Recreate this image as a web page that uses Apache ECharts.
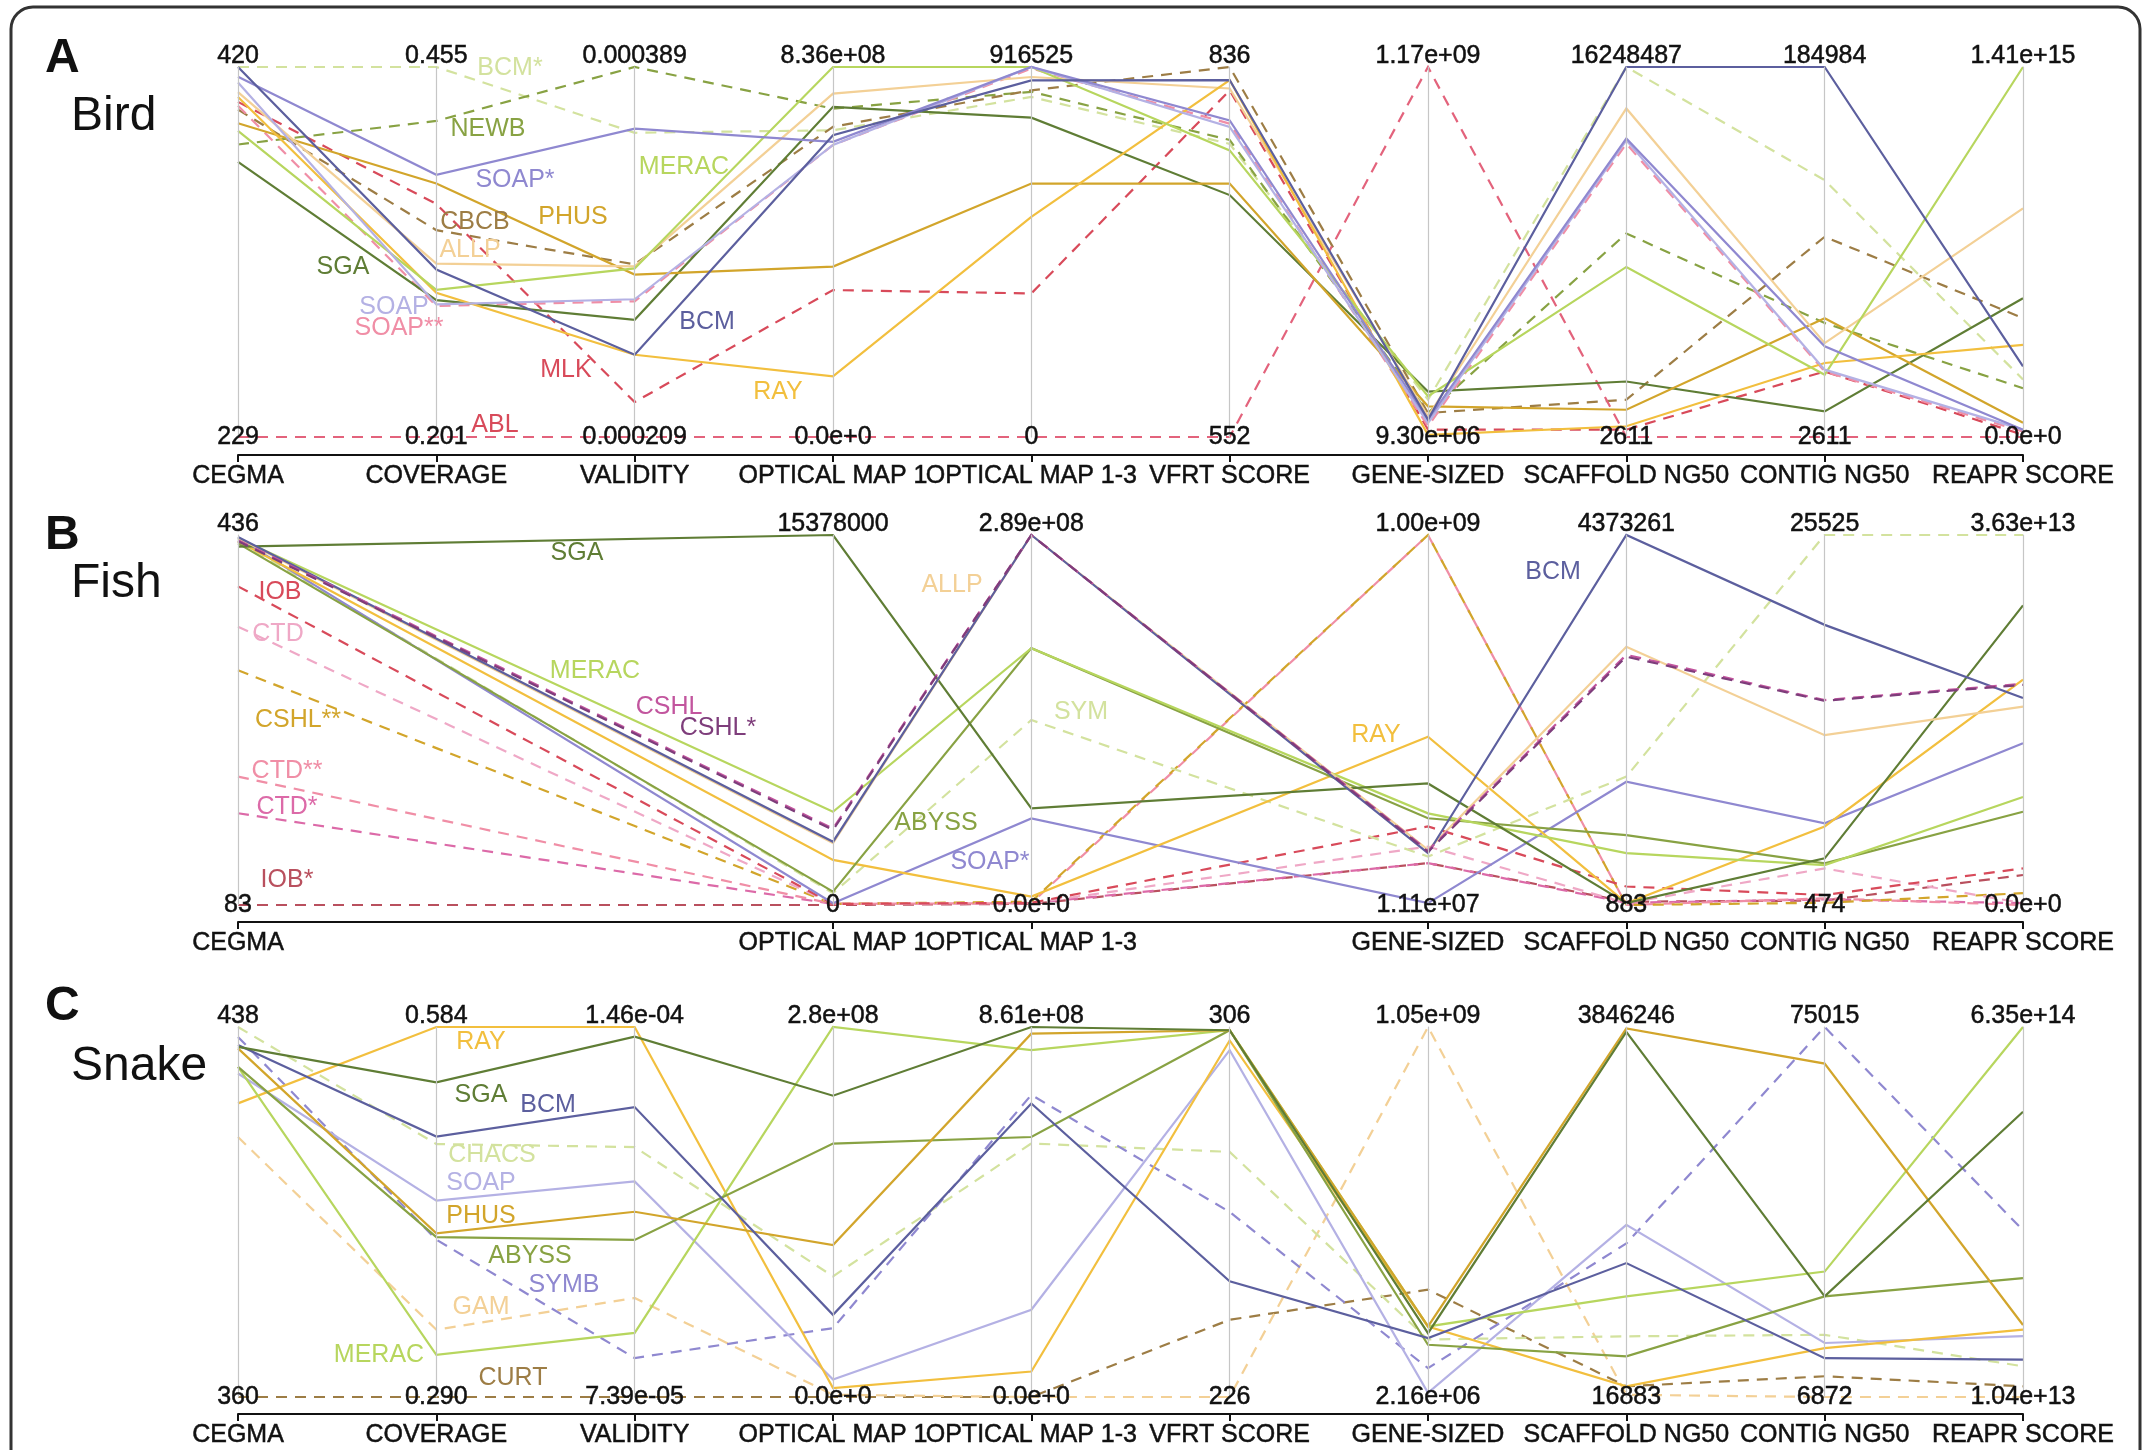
<!DOCTYPE html>
<html>
<head>
<meta charset="utf-8">
<title>Assembly metrics - Bird, Fish, Snake</title>
<script src="https://cdn.jsdelivr.net/npm/echarts@6/dist/echarts.min.js"></script>
<style>
html, body { margin: 0; padding: 0; background: #fff; }
#main { width: 2151px; height: 1450px; }
</style>
</head>
<body>
<div id="main"></div>
<script>
var FONT = '"Liberation Sans", Arial, Helvetica, sans-serif';

var axisNames = ['CEGMA', 'COVERAGE', 'VALIDITY', 'OPTICAL MAP 1', 'OPTICAL MAP 1-3',
	'VFRT SCORE', 'GENE-SIZED', 'SCAFFOLD NG50', 'CONTIG NG50', 'REAPR SCORE'];

var colors = {
	dkolive : '#5f7d35', olive : '#88a243', ltgreen : '#b7d65e', pale : '#d3e29e',
	blue : '#5c5f9e', purple : '#8f88d0', lavender : '#b4b1e4',
	gold : '#d2a52b', orange : '#f2bf3e', peach : '#f3d096', brown : '#9d7d45',
	red : '#d84a5a', pink : '#f08ea6', rose : '#e3637c', magenta : '#c2559e',
	plum : '#7e3d7b', orchid : '#dc6aa8', wine : '#b9505e', ltpink : '#efa8c6'
};

// ---- A  Bird ----
var birdMin = [229, 0.201, 0.000209, 0, 0, 552, 9.30e6, 2611, 2611, 0];
var birdMax = [420, 0.455, 0.000389, 8.36e8, 916525, 836, 1.17e9, 16248487, 184984, 1.41e15];
var birdTop = ['420', '0.455', '0.000389', '8.36e+08', '916525', '836', '1.17e+09', '16248487', '184984', '1.41e+15'];
var birdBottom = ['229', '0.201', '0.000209', '0.0e+0', '0', '552', '9.30e+06', '2611', '2611', '0.0e+0'];
var birdNames = ['BCM*', 'NEWB', 'CBCB', 'ABL', 'MLK', 'SOAP**', 'SGA', 'PHUS', 'ALLP', 'RAY', 'MERAC', 'SOAP', 'SOAP*', 'BCM'];
var birdValues = [
	[420, 0.455, 0.000357, 6.93e8, 842300, 777, 1.265e8, 16248487, 129200, 2.19e14],
	[380, 0.418, 0.000389, 7.42e8, 855100, 780, 8.47e7, 8.94e6, 58800, 1.86e14],
	[398, 0.343, 0.000293, 7.01e8, 858800, 836, 8.47e7, 1.64e6, 101300, 4.53e14],
	[229, 0.201, 0.000209, 0, 0, 552, 1.17e9, 2611, 2611, 0],
	[402, 0.361, 0.000226, 3.32e8, 355600, 818, 3.25e7, 3.27e5, 34900, 8.5e12],
	[400, 0.291, 0.000275, 6.60e8, 912900, 792.5, 4.3e7, 1.288e7, 34900, 2.1e13],
	[371, 0.295, 0.000266, 7.46e8, 791000, 737.7, 1.52e8, 2.44e6, 15200, 5.29e14],
	[391, 0.375, 0.000288, 3.85e8, 627800, 746.5, 1.056e8, 1.2e6, 61150, 5.4e13],
	[407, 0.320, 0.000292, 7.76e8, 891800, 819.5, 7.43e7, 1.443e7, 48900, 8.71e14],
	[404.5, 0.300, 0.000249, 1.37e8, 545300, 826, 1.63e7, 4.74e5, 39100, 3.51e14],
	[387, 0.302, 0.000291, 8.36e8, 916525, 772, 1.37e8, 7.47e6, 33250, 1.41e15],
	[412, 0.292, 0.000276, 6.60e8, 916525, 790, 5.34e7, 1.303e7, 35800, 2.8e13],
	[415, 0.381, 0.000359, 6.67e8, 916525, 795, 6.39e7, 1.311e7, 47300, 2.8e13],
	[420, 0.316, 0.000249, 6.82e8, 883500, 826, 6.39e7, 16248487, 184984, 2.69e14]
];
var birdStyle = [['pale', 1], ['olive', 1], ['brown', 1], ['rose', 1], ['red', 1], ['pink', 1], ['dkolive', 0],
	['gold', 0], ['peach', 0], ['orange', 0], ['ltgreen', 0], ['lavender', 0], ['purple', 0], ['blue', 0]];
var birdTags = [
	['BCM*', 'pale', 510, 68], ['NEWB', 'olive', 488, 129], ['SOAP*', 'purple', 515, 180],
	['MERAC', 'ltgreen', 684, 167], ['CBCB', 'brown', 475, 222], ['PHUS', 'gold', 573, 217],
	['ALLP', 'peach', 470, 250], ['SGA', 'dkolive', 343, 267], ['SOAP', 'lavender', 394, 307],
	['SOAP**', 'pink', 399, 328], ['BCM', 'blue', 707, 322], ['MLK', 'red', 566, 370],
	['RAY', 'orange', 778, 392], ['ABL', 'red', 495, 425]
];

// ---- B  Fish (no coverage, validity, vfrt) ----
var fishMin = [83, 0, 0, 0, 0, 0, 1.11e7, 883, 474, 0];
var fishMax = [436, 1, 1, 15378000, 2.89e8, 1, 1.00e9, 4373261, 25525, 3.63e13];
var fishTop = ['436', '', '', '15378000', '2.89e+08', '', '1.00e+09', '4373261', '25525', '3.63e+13'];
var fishBottom = ['83', '', '', '0', '0.0e+0', '', '1.11e+07', '883', '474', '0.0e+0'];
var fishNames = ['IOB*', 'CTD*', 'CTD**', 'CSHL**', 'CTD', 'IOB', 'SYM', 'SOAP*', 'RAY', 'ABYSS', 'MERAC', 'SGA', 'ALLP', 'BCM', 'CSHL', 'CSHL*'];
var fishValues = [
	[83, null, null, 0, 8.7e5, null, 1.23e8, 40200, 775, 2.94e12],
	[170.5, null, null, 46100, 1.45e6, null, 1.23e8, 27100, 850, 1.8e11],
	[205.5, null, null, 46100, 1.45e6, null, 1.00e9, 883, 925, 0],
	[307, null, null, 46100, 2.6e6, null, 1.00e9, 883, 624, 1.16e12],
	[348.5, null, null, 46100, 1.45e6, null, 1.673e8, 22700, 2950, 1.8e11],
	[387, null, null, 46100, 1.73e6, null, 2.21e8, 219500, 1150, 3.59e12],
	[430, null, null, 492000, 1.445e8, null, 1.406e8, 1.518e6, 25525, 3.63e13],
	[433, null, null, 76900, 6.76e7, null, 1.6e7, 1.457e6, 6010, 1.586e13],
	[430, null, null, 1.876e6, 6.65e6, null, 4.61e8, 22700, 5790, 2.21e13],
	[428, null, null, 553600, 2.006e8, null, 2.43e8, 827000, 3300, 9.15e12],
	[433, null, null, 3.875e6, 2.006e8, null, 2.56e8, 613000, 3180, 1.06e13],
	[425, null, null, 15378000, 7.54e7, null, 3.36e8, 22700, 3630, 2.94e13],
	[433, null, null, 2.57e6, 2.89e8, null, 1.584e8, 3.053e6, 11970, 1.946e13],
	[434, null, null, 2.63e6, 2.89e8, null, 1.495e8, 4373261, 19440, 2.03e13],
	[431, null, null, 3.18e6, 2.89e8, null, 1.565e8, 2.957e6, 14350, 2.17e13],
	[430, null, null, 3.12e6, 2.89e8, null, 1.534e8, 2.935e6, 14300, 2.16e13]
];
var fishStyle = [['wine', 1], ['orchid', 1], ['pink', 1], ['gold', 1], ['ltpink', 1], ['red', 1], ['pale', 1],
	['purple', 0], ['orange', 0], ['olive', 0], ['ltgreen', 0], ['dkolive', 0], ['peach', 0], ['blue', 0],
	['magenta', 1], ['plum', 1]];
var fishTags = [
	['SGA', 'dkolive', 577, 553], ['IOB', 'red', 280, 592], ['CTD', 'ltpink', 278, 634],
	['MERAC', 'ltgreen', 595, 671], ['CSHL**', 'gold', 298, 720], ['CSHL', 'magenta', 669, 707],
	['CSHL*', 'plum', 718, 728], ['CTD**', 'pink', 287, 771], ['CTD*', 'orchid', 287, 807],
	['IOB*', 'wine', 287, 880], ['ALLP', 'peach', 952, 585], ['SYM', 'pale', 1081, 712],
	['ABYSS', 'olive', 936, 823], ['SOAP*', 'purple', 990, 862], ['RAY', 'orange', 1376, 735],
	['BCM', 'blue', 1553, 572]
];

// ---- C  Snake ----
var snakeMin = [360, 0.290, 7.39e-5, 0, 0, 226, 2.16e6, 16883, 6872, 1.04e13];
var snakeMax = [438, 0.584, 1.46e-4, 2.8e8, 8.61e8, 306, 1.05e9, 3846246, 75015, 6.35e14];
var snakeTop = ['438', '0.584', '1.46e-04', '2.8e+08', '8.61e+08', '306', '1.05e+09', '3846246', '75015', '6.35e+14'];
var snakeBottom = ['360', '0.290', '7.39e-05', '0.0e+0', '0.0e+0', '226', '2.16e+06', '16883', '6872', '1.04e+13'];
var snakeNames = ['CURT', 'GAM', 'CHACS', 'SYMB', 'SOAP', 'RAY', 'MERAC', 'ABYSS', 'PHUS', 'BCM', 'SGA'];
var snakeValues = [
	[360, 0.290, 7.39e-5, 0, 0, 242.7, 3.06e8, 127900, 10690, 2.85e13],
	[414.8, 0.3435, 9.32e-5, 1.7e6, 0, 226, 1.05e9, 39860, 6872, 1.04e13],
	[438, 0.491, 1.226e-4, 9.13e7, 5.9e8, 279, 1.65e8, 6.45e5, 18320, 6.22e13],
	[435.9, 0.415, 8.15e-5, 5.21e7, 7.03e8, 266, 8.39e7, 1.606e6, 75015, 2.92e14],
	[428.2, 0.446, 1.159e-4, 1.32e7, 2.03e8, 301, 1.37e7, 1.798e6, 16820, 1.13e14],
	[421.9, 0.584, 1.46e-4, 6.7e6, 5.94e7, 303.1, 2.02e8, 127900, 15870, 1.24e14],
	[429.6, 0.3235, 8.64e-5, 2.8e8, 8.07e8, 305.3, 2.02e8, 1.058e6, 29970, 6.35e14],
	[429.6, 0.417, 1.045e-4, 1.918e8, 6.05e8, 305.3, 1.5e8, 4.38e5, 25400, 2.11e14],
	[433.5, 0.420, 1.10e-4, 1.15e8, 8.455e8, 305.3, 2.02e8, 3.831e6, 68270, 1.32e14],
	[434.2, 0.497, 1.304e-4, 6.22e7, 6.83e8, 251, 1.69e8, 1.403e6, 14030, 7.35e13],
	[433.8, 0.540, 1.441e-4, 2.28e8, 8.61e8, 305.3, 1.83e8, 3.796e6, 25400, 4.92e14]
];
var snakeStyle = [['brown', 1], ['peach', 1], ['pale', 1], ['purple', 1], ['lavender', 0], ['orange', 0],
	['ltgreen', 0], ['olive', 0], ['gold', 0], ['blue', 0], ['dkolive', 0]];
var snakeTags = [
	['RAY', 'orange', 481, 1042], ['SGA', 'dkolive', 481, 1095], ['BCM', 'blue', 548, 1105],
	['CHACS', 'pale', 492, 1155], ['SOAP', 'lavender', 481, 1183], ['PHUS', 'gold', 481, 1216],
	['ABYSS', 'olive', 530, 1256], ['SYMB', 'purple', 564, 1285], ['GAM', 'peach', 481, 1307],
	['MERAC', 'ltgreen', 379, 1355], ['CURT', 'brown', 513, 1378]
];

var panels = [
	{ letter : 'A', title : 'Bird', top : 67, base : 455, letterY : 59, titleY : 117,
	  min : birdMin, max : birdMax, topL : birdTop, botL : birdBottom,
	  names : birdNames, values : birdValues, style : birdStyle, tags : birdTags },
	{ letter : 'B', title : 'Fish', top : 535, base : 922, letterY : 536, titleY : 584,
	  min : fishMin, max : fishMax, topL : fishTop, botL : fishBottom,
	  names : fishNames, values : fishValues, style : fishStyle, tags : fishTags },
	{ letter : 'C', title : 'Snake', top : 1027, base : 1414, letterY : 1007, titleY : 1067,
	  min : snakeMin, max : snakeMax, topL : snakeTop, botL : snakeBottom,
	  names : snakeNames, values : snakeValues, style : snakeStyle, tags : snakeTags }
];

function labelFormatter(lo, hi, loText, hiText) {
	var eps = (hi - lo) * 1e-6;
	return function(v) {
		if (Math.abs(v - hi) <= eps) return '{hi|' + hiText + '}';
		if (Math.abs(v - lo) <= eps) return '{lo|' + loText + '}';
		return '';
	};
}

var option = {
	animation : false,
	backgroundColor : '#fff',
	parallel : [],
	parallelAxis : [],
	grid : [],
	xAxis : [],
	yAxis : [],
	series : [],
	graphic : []
};

// outer rounded frame
option.graphic.push({
	type : 'rect', z : 0,
	shape : { x : 11, y : 7, width : 2129, height : 1480, r : 22 },
	style : { fill : 'none', stroke : '#333', lineWidth : 3 }
});

for (var p = 0; p < panels.length; p++) {
	var pn = panels[p];
	option.parallel.push({
		left : 238, right : 128, top : pn.top, height : 370,
		layout : 'horizontal'
	});
	for (var i = 0; i < axisNames.length; i++) {
		var shown = pn.topL[i] !== '';
		var txt = { fontSize : 25, fontFamily : FONT, color : '#111', textBorderColor : '#111', textBorderWidth : 0.5 };
		option.parallelAxis.push({
			dim : i, parallelIndex : p, type : 'value', name : '',
			min : pn.min[i], max : pn.max[i], splitNumber : 1,
			axisLine : { show : shown, lineStyle : { color : '#c6c6c6', width : 1.2 } },
			axisTick : { show : false },
			axisLabel : {
				show : shown, margin : 0, align : 'center', verticalAlign : 'middle',
				showMinLabel : true, showMaxLabel : true,
				color : '#111', fontSize : 25, fontFamily : FONT,
				formatter : labelFormatter(pn.min[i], pn.max[i], pn.botL[i], pn.topL[i]),
				rich : {
					hi : echarts.util.extend({ padding : [0, 0, 22, 0] }, txt),
					lo : echarts.util.extend({}, txt)
				}
			}
		});
	}
	for (var s = 0; s < pn.values.length; s++) {
		var st = pn.style[s];
		option.series.push({
			type : 'parallel', name : pn.names[s], parallelIndex : p,
			silent : true, smooth : false,
			lineStyle : { color : colors[st[0]], width : 2.2, opacity : 1, type : st[1] ? [11, 8] : 'solid' },
			data : [pn.values[s]]
		});
	}

	// bottom baseline with axis names
	var cats = [];
	for (var k = 0; k < axisNames.length; k++) {
		cats.push(pn.topL[k] !== '' ? axisNames[k] : '');
	}
	option.grid.push({ left : 238, right : 128, top : pn.base - 2, height : 2 });
	option.xAxis.push({
		gridIndex : p, type : 'category', data : cats, boundaryGap : false,
		axisLine : { lineStyle : { color : '#111', width : 2 } },
		axisTick : { length : 7, lineStyle : { color : '#111', width : 2 },
			interval : function(idx, val) { return val !== ''; } },
		axisLabel : { interval : 0, margin : 9, color : '#111', fontSize : 25, fontFamily : FONT,
			textBorderColor : '#111', textBorderWidth : 0.5 },
		splitLine : { show : false }
	});
	option.yAxis.push({ gridIndex : p, type : 'value', show : false });

	option.graphic.push({
		type : 'text', z : 100, x : 45, y : pn.letterY,
		style : { text : pn.letter, fill : '#111', font : 'bold 48px ' + FONT, align : 'left', verticalAlign : 'middle' }
	});
	option.graphic.push({
		type : 'text', z : 100, x : 71, y : pn.titleY,
		style : { text : pn.title, fill : '#111', font : '48px ' + FONT, align : 'left', verticalAlign : 'middle' }
	});
	for (var t = 0; t < pn.tags.length; t++) {
		var tg = pn.tags[t];
		option.graphic.push({
			type : 'text', z : 100, x : tg[2], y : tg[3],
			style : { text : tg[0], fill : colors[tg[1]], font : '25px ' + FONT, align : 'center', verticalAlign : 'middle' }
		});
	}
}

var myChart = echarts.init(document.getElementById('main'));
myChart.setOption(option);
</script>
</body>
</html>
